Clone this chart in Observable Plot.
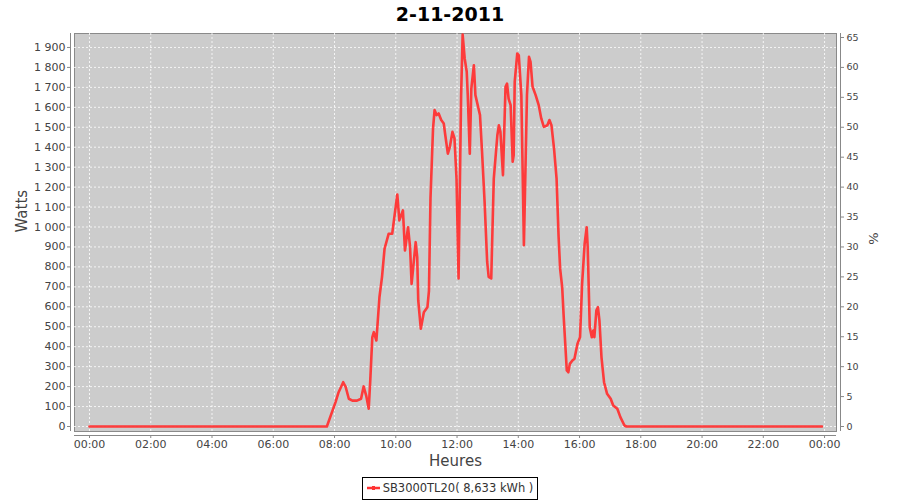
<!DOCTYPE html>
<html>
<head>
<meta charset="utf-8">
<script src="https://cdn.jsdelivr.net/npm/d3@7"></script>
<script src="https://cdn.jsdelivr.net/npm/@observablehq/plot@0.6"></script>
<style>
  html, body { margin: 0; padding: 0; background: #ffffff; }
  body { width: 900px; height: 500px; overflow: hidden; font-family: "DejaVu Sans", sans-serif; }
  #title { height: 30px; line-height: 28px; text-align: center; font-weight: bold; font-size: 19px; color: #000; }
  #legend { display: flex; justify-content: center; margin-top: 5px; }
  #legend .box { border: 1px solid #000; padding: 1px 4px 2px 3px; font-size: 11.5px; color: #333; display: flex; align-items: center; height: 18px; }
</style>
</head>
<body>
<div id="title"></div>
<div id="chart"></div>
<div id="legend"></div>
<script>
const titleText = "2-11-2011";
const xLabel = "Heures";
const yLabel = "Watts";
const y2Label = "%";
const seriesName = "SB3000TL20( 8,633 kWh )";

const hourTicks = [0, 2, 4, 6, 8, 10, 12, 14, 16, 18, 20, 22, 24];
const wattTicks = [0, 100, 200, 300, 400, 500, 600, 700, 800, 900, 1000, 1100, 1200, 1300, 1400, 1500, 1600, 1700, 1800, 1900];
const pctTicks = [0, 5, 10, 15, 20, 25, 30, 35, 40, 45, 50, 55, 60, 65];
const ratedPower = 3000; // right axis: % of 3000 W

const times = ["00:00","07:45","08:02","08:08","08:17","08:22","08:28","08:35","08:44","08:52","08:57","09:02","09:07","09:10","09:14","09:17","09:22","09:28","09:33","09:38","09:46","09:53","09:58","10:03","10:07","10:14","10:18","10:24","10:28","10:31","10:39","10:42","10:44","10:49","10:55","11:02","11:05","11:08","11:13","11:16","11:20","11:24","11:29","11:34","11:37","11:42","11:46","11:51","11:55","11:59","12:03","12:08","12:11","12:15","12:19","12:21","12:25","12:28","12:33","12:36","12:45","12:49","12:54","12:59","13:02","13:07","13:12","13:19","13:22","13:25","13:30","13:35","13:38","13:41","13:45","13:49","13:51","13:53","13:58","14:01","14:06","14:11","14:17","14:21","14:24","14:28","14:34","14:40","14:45","14:50","14:57","15:01","15:05","15:10","15:15","15:19","15:22","15:26","15:29","15:35","15:38","15:41","15:46","15:50","15:56","16:01","16:05","16:10","16:14","16:16","16:20","16:24","16:27","16:29","16:33","16:36","16:39","16:43","16:48","16:54","17:01","17:06","17:14","17:20","17:28","17:32","23:55"];
const watts = [0,0,122,172,222,197,139,130,130,139,201,155,89,230,447,473,431,648,749,891,966,966,1066,1163,1033,1083,882,999,899,715,924,849,632,490,573,598,680,1143,1494,1586,1561,1569,1536,1519,1460,1368,1402,1477,1444,1243,742,1661,1965,1845,1778,1661,1368,1694,1811,1661,1561,1377,1126,826,750,742,1243,1460,1510,1477,1260,1703,1719,1644,1611,1327,1360,1728,1870,1861,1661,909,1661,1853,1828,1703,1661,1611,1544,1502,1510,1536,1510,1394,1243,950,790,699,548,281,272,314,331,340,415,448,715,916,999,899,498,448,481,448,582,598,531,347,222,164,139,105,89,47,5,0,0];

const data = times.map((t, i) => {
  const [h, m] = t.split(":").map(Number);
  return {hour: h + m / 60, w: watts[i]};
});

const frFmt = d3.formatLocale({decimal: ",", thousands: "\u00a0", grouping: [3], currency: ["", ""]}).format(",");
const hourFmt = h => String(h % 24).padStart(2, "0") + ":00";

const xDomain = [-0.49, 24.39];
const yDomain = [-25, 1970];

const axisColor = "#888888";
const textColor = "#444444";

const chart = Plot.plot({
  width: 900,
  height: 442,
  marginTop: 3,
  marginBottom: 41,
  marginLeft: 74,
  marginRight: 64,
  style: {fontFamily: "DejaVu Sans, sans-serif", fontSize: "11px", color: textColor, background: "white", overflow: "visible"},
  x: {domain: xDomain},
  y: {domain: yDomain},
  marks: [
    Plot.frame({fill: "#cccccc", stroke: "#8a8a8a"}),
    Plot.gridY(wattTicks, {stroke: "#ffffff", strokeOpacity: 0.8, strokeDasharray: "2,2", strokeWidth: 1}),
    Plot.gridX(hourTicks, {stroke: "#ffffff", strokeOpacity: 0.8, strokeDasharray: "2,2", strokeWidth: 1}),
    // axis lines offset from plot area
    Plot.ruleX([xDomain[0]], {dx: -4, stroke: axisColor}),
    Plot.ruleX([xDomain[1]], {dx: 4, stroke: axisColor}),
    Plot.ruleY([yDomain[0]], {dy: 4, stroke: axisColor}),
    Plot.axisY(wattTicks, {anchor: "left", tickSize: 3, tickPadding: 2, dx: -4, tickFormat: frFmt, label: null, stroke: axisColor, fill: textColor}),
    Plot.axisY(pctTicks.map(p => p * ratedPower / 100), {anchor: "right", tickSize: 3, tickPadding: 3, dx: 4, tickFormat: d => Math.round(d / ratedPower * 100), label: null, stroke: axisColor, fill: textColor, fontSize: 9.5}),
    Plot.axisX(hourTicks, {anchor: "bottom", tickSize: 3, tickPadding: 2, dy: 4, tickFormat: hourFmt, label: null, stroke: axisColor, fill: textColor}),
    Plot.line(data, {x: "hour", y: "w", stroke: "#ff3333", strokeWidth: 2.6, strokeOpacity: 0.95, strokeLinejoin: "round", clip: true}),
    Plot.text([yLabel], {frameAnchor: "left", lineAnchor: "middle", dx: -52, rotate: -90, fontSize: 15, fill: textColor}),
    Plot.text([y2Label], {frameAnchor: "right", lineAnchor: "middle", dx: 37, rotate: -90, fontSize: 13, fill: textColor}),
    Plot.text([xLabel], {frameAnchor: "bottom", lineAnchor: "middle", dy: 30, fontSize: 15, fill: textColor})
  ]
});

document.getElementById("title").textContent = titleText;
document.getElementById("chart").appendChild(chart);

const legend = document.getElementById("legend");
legend.innerHTML = `<div class="box"><svg width="15" height="10" style="margin-right:2px"><line x1="1" y1="5" x2="14" y2="5" stroke="#ff3333" stroke-width="2.5"/><rect x="6" y="3" width="3" height="4" fill="#ff3333"/></svg><span></span></div>`;
legend.querySelector("span").textContent = seriesName;
</script>
</body>
</html>
